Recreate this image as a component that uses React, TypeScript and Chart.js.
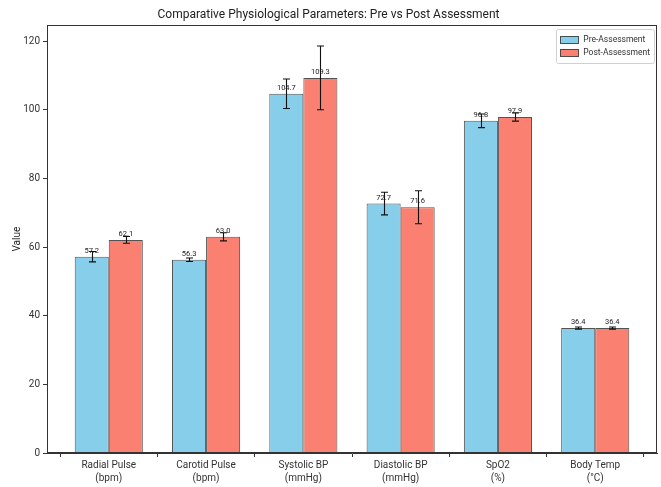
import React, { useEffect, useRef } from "react";
import { Chart, registerables } from "chart.js";

Chart.register(...registerables);

const categories: string[][] = [
  ["Radial Pulse", "(bpm)"],
  ["Carotid Pulse", "(bpm)"],
  ["Systolic BP", "(mmHg)"],
  ["Diastolic BP", "(mmHg)"],
  ["SpO2", "(%)"],
  ["Body Temp", "(°C)"],
];
const preValues = [57.2, 56.3, 104.7, 72.7, 96.8, 36.4];
const postValues = [62.1, 63.0, 109.3, 71.6, 97.9, 36.4];
const preErrors = [1.5, 0.5, 4.3, 3.3, 2.0, 0.3];
const postErrors = [1.0, 1.2, 9.3, 4.8, 1.2, 0.3];
const seriesNames = ["Pre-Assessment", "Post-Assessment"];
const yTicks = [0, 20, 40, 60, 80, 100, 120];

const FONT = "Roboto";
const PRE_COLOR = "#87CEEB";
const POST_COLOR = "#FA8072";
const EDGE = "rgba(40,40,40,0.8)";

export default function App() {
  const ref = useRef<HTMLCanvasElement | null>(null);

  useEffect(() => {
    document.body.style.margin = "0";
    const canvas = ref.current!;
    const errs = [preErrors, postErrors];

    const framePlugin = {
      id: "frame",
      afterDraw(chart: any) {
        const { ctx, chartArea } = chart;
        ctx.save();
        ctx.strokeStyle = "#333";
        ctx.lineWidth = 1;
        ctx.strokeRect(
          Math.round(chartArea.left) + 0.5,
          Math.round(chartArea.top) + 0.5,
          Math.round(chartArea.right - chartArea.left) - 1,
          Math.round(chartArea.bottom - chartArea.top) - 1
        );
        ctx.restore();
      },
    };

    const errorPlugin = {
      id: "errs",
      afterDatasetsDraw(chart: any) {
        const { ctx } = chart;
        const y = chart.scales.y;
        ctx.save();
        chart.data.datasets.forEach((ds: any, di: number) => {
          const meta = chart.getDatasetMeta(di);
          meta.data.forEach((bar: any, i: number) => {
            const v = ds.data[i].y;
            const e = errs[di][i];
            const yt = y.getPixelForValue(v + e);
            const yb = y.getPixelForValue(v - e);
            const x = Math.round(bar.x) + 0.5;
            ctx.strokeStyle = "#111";
            ctx.lineWidth = 1.1;
            ctx.beginPath();
            ctx.moveTo(x, yt);
            ctx.lineTo(x, yb);
            ctx.moveTo(x - 3.5, yt);
            ctx.lineTo(x + 3.5, yt);
            ctx.moveTo(x - 3.5, yb);
            ctx.lineTo(x + 3.5, yb);
            ctx.stroke();
          });
        });
        ctx.fillStyle = "#222";
        ctx.font = `7.5px ${FONT}`;
        ctx.textAlign = "center";
        ctx.textBaseline = "bottom";
        chart.data.datasets.forEach((ds: any, di: number) => {
          const meta = chart.getDatasetMeta(di);
          meta.data.forEach((bar: any, i: number) => {
            ctx.fillText(ds.data[i].y.toFixed(1), bar.x, bar.y - 2);
          });
        });
        ctx.restore();
      },
    };

    const legendPlugin = {
      id: "customLegend",
      afterDraw(chart: any) {
        const { ctx, chartArea } = chart;
        ctx.save();
        ctx.font = `8.5px ${FONT}`;
        const tw = Math.max(...seriesNames.map((s) => ctx.measureText(s).width));
        const pad = 4;
        const sw = 18;
        const sh = 7;
        const gap = 5;
        const rowH = 13;
        const w = pad + sw + gap + tw + pad;
        const h = pad * 2 + rowH * 2;
        const x0 = chartArea.right - 3 - w;
        const y0 = chartArea.top + 4;
        ctx.fillStyle = "rgba(255,255,255,0.85)";
        ctx.strokeStyle = "#d0d0d0";
        ctx.lineWidth = 1;
        ctx.beginPath();
        ctx.roundRect(Math.round(x0) + 0.5, Math.round(y0) + 0.5, Math.round(w), Math.round(h), 2);
        ctx.fill();
        ctx.stroke();
        const colors = [PRE_COLOR, POST_COLOR];
        seriesNames.forEach((name, i) => {
          const cy = y0 + pad + rowH * i + rowH / 2;
          ctx.fillStyle = colors[i];
          ctx.fillRect(x0 + pad, cy - sh / 2, sw, sh);
          ctx.strokeStyle = EDGE;
          ctx.strokeRect(Math.round(x0 + pad) + 0.5, Math.round(cy - sh / 2) + 0.5, sw, sh);
          ctx.fillStyle = "#333";
          ctx.textAlign = "left";
          ctx.textBaseline = "middle";
          ctx.fillText(name, x0 + pad + sw + gap, cy);
        });
        ctx.restore();
      },
    };

    const chart = new Chart(canvas, {
      type: "bar",
      data: {
        datasets: [
          {
            label: seriesNames[0],
            data: preValues.map((v, i) => ({ x: i, y: v })),
            backgroundColor: PRE_COLOR,
            borderColor: EDGE,
            borderWidth: 1,
          },
          {
            label: seriesNames[1],
            data: postValues.map((v, i) => ({ x: i, y: v })),
            backgroundColor: POST_COLOR,
            borderColor: EDGE,
            borderWidth: 1,
          },
        ] as any,
      },
      options: {
        animation: false,
        responsive: false,
        devicePixelRatio: 1,
        categoryPercentage: 0.7,
        barPercentage: 1,
        layout: { padding: { left: 0, right: 4, top: 0, bottom: 0 } },
        plugins: {
          legend: { display: false },
          tooltip: { enabled: false },
          title: {
            display: true,
            text: "Comparative Physiological Parameters: Pre vs Post Assessment",
            color: "#222",
            font: { family: FONT, size: 12, weight: "normal" },
            padding: { top: 8, bottom: 3 },
          },
        },
        scales: {
          x: {
            type: "linear",
            min: -0.635,
            max: 5.635,
            offset: false,
            afterBuildTicks(scale: any) {
              scale.ticks = categories.map((_, i) => ({ value: i }));
            },
            afterFit(scale: any) {
              scale.height = 34;
            },
            ticks: {
              autoSkip: false,
              maxRotation: 0,
              color: "#333",
              padding: 2,
              font: { family: FONT, size: 10, lineHeight: 1.3 },
              callback: (v: any) => categories[v as number] ?? "",
            },
            grid: {
              display: true,
              drawOnChartArea: false,
              drawTicks: true,
              tickLength: 4,
              color: "#333",
            },
            border: { display: true, color: "#333" },
          },
          y: {
            min: 0,
            max: 124.6,
            afterBuildTicks(scale: any) {
              scale.ticks = yTicks.map((v) => ({ value: v }));
            },
            afterFit(scale: any) {
              scale.width = 47;
            },
            ticks: {
              color: "#333",
              padding: 3,
              font: { family: FONT, size: 10 },
            },
            grid: {
              display: true,
              drawOnChartArea: false,
              drawTicks: true,
              tickLength: 4,
              color: "#333",
            },
            border: { display: true, color: "#333" },
            title: {
              display: true,
              text: "Value",
              color: "#222",
              font: { family: FONT, size: 10 },
              padding: { top: 11, bottom: 0 },
            },
          },
        },
      } as any,
      plugins: [framePlugin, errorPlugin, legendPlugin],
    });
    return () => chart.destroy();
  }, []);

  return (
    <div style={{ width: 661, height: 487 }}>
      <canvas ref={ref} width={661} height={487} style={{ display: "block" }} />
    </div>
  );
}
